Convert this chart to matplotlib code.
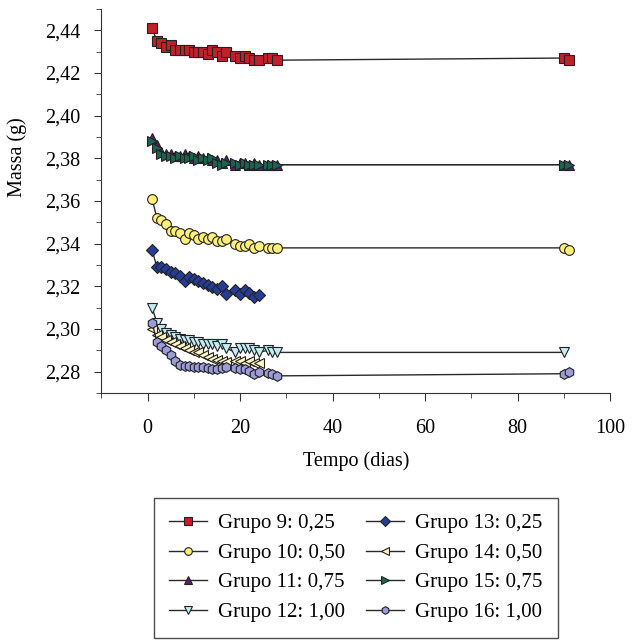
"""Massa (g) vs tempo (dias) for grupos 9-16."""

import matplotlib

matplotlib.use("Agg")
import matplotlib.pyplot as plt
from matplotlib.ticker import FuncFormatter, MultipleLocator

plt.rcParams["font.family"] = ["Liberation Serif", "DejaVu Serif"]

DAYS_FULL = [1, 2, 3, 4, 5, 6, 7, 8, 9, 10, 11, 12, 13, 14, 15, 16, 17,
             19, 20, 21, 22, 23, 24, 26, 27, 28, 90, 91]
DAYS_SHORT = [1, 2, 3, 4, 5, 6, 7, 8, 9, 10, 11, 12, 13, 14, 15, 16, 17,
              19, 20, 21, 22, 23, 24]
DAYS_G12 = DAYS_FULL[:-1]

G9 = [2.441, 2.435, 2.434, 2.432, 2.433, 2.431, 2.431, 2.431, 2.431, 2.430,
      2.430, 2.430, 2.429, 2.431, 2.430, 2.428, 2.430, 2.428, 2.427, 2.428,
      2.427, 2.426, 2.426, 2.427, 2.427, 2.426, 2.427, 2.426]
G10 = [2.361, 2.352, 2.351, 2.349, 2.346, 2.346, 2.345, 2.342, 2.345, 2.344,
       2.342, 2.343, 2.342, 2.343, 2.341, 2.341, 2.342, 2.340, 2.339, 2.339,
       2.340, 2.338, 2.339, 2.338, 2.338, 2.338, 2.338, 2.337]
G11 = [2.3895, 2.386, 2.383, 2.382, 2.382, 2.381, 2.381, 2.382, 2.381, 2.380,
       2.381, 2.380, 2.380, 2.379, 2.379, 2.378, 2.379, 2.377, 2.378, 2.378,
       2.377, 2.378, 2.377, 2.377, 2.377, 2.377, 2.377, 2.377]
G12 = [2.310, 2.303, 2.300, 2.298, 2.297, 2.296, 2.2955, 2.295, 2.295, 2.294,
       2.294, 2.293, 2.293, 2.293, 2.292, 2.293, 2.291, 2.289, 2.291, 2.291,
       2.291, 2.290, 2.289, 2.290, 2.289, 2.289, 2.289]
G13 = [2.337, 2.329, 2.329, 2.328, 2.3265, 2.326, 2.325, 2.3227, 2.3243,
       2.3236, 2.3227, 2.3215, 2.3204, 2.3196, 2.3188, 2.320, 2.3166, 2.3184,
       2.3166, 2.3184, 2.3168, 2.315, 2.316]
G14 = [2.300, 2.297, 2.296, 2.295, 2.294, 2.293, 2.292, 2.291, 2.290, 2.289,
       2.289, 2.288, 2.287, 2.286, 2.2855, 2.285, 2.2845, 2.285, 2.285, 2.284,
       2.285, 2.284, 2.284]
G15 = [2.388, 2.385, 2.382, 2.381, 2.381, 2.380, 2.381, 2.380, 2.380, 2.381,
       2.379, 2.380, 2.379, 2.380, 2.378, 2.377, 2.378, 2.378, 2.377, 2.378,
       2.377, 2.377, 2.377, 2.377, 2.377, 2.377, 2.377, 2.377]
G16 = [2.303, 2.294, 2.292, 2.290, 2.288, 2.285, 2.283, 2.2825, 2.2825, 2.282,
       2.282, 2.282, 2.2815, 2.281, 2.281, 2.2815, 2.282, 2.2815, 2.281, 2.281,
       2.2805, 2.279, 2.280, 2.2795, 2.279, 2.278, 2.279, 2.280]

SERIES = [
    ("Grupo 9: 0,25", DAYS_FULL, G9, "s", "#C0202A"),
    ("Grupo 10: 0,50", DAYS_FULL, G10, "o", "#FFF07A"),
    ("Grupo 11: 0,75", DAYS_FULL, G11, "^", "#5A1E6E"),
    ("Grupo 12: 1,00", DAYS_G12, G12, "v", "#C4ECF4"),
    ("Grupo 13: 0,25", DAYS_SHORT, G13, "D", "#263C96"),
    ("Grupo 14: 0,50", DAYS_SHORT, G14, "<", "#FFF6C4"),
    ("Grupo 15: 0,75", DAYS_FULL, G15, ">", "#1A6450"),
    ("Grupo 16: 1,00", DAYS_FULL, G16, "h", "#9C9CDA"),
]


def comma(fmt):
    return FuncFormatter(lambda v, _: fmt.format(v).replace(".", ","))


fig = plt.figure(figsize=(6.41, 6.41), dpi=100)
ax = fig.add_axes([0.158, 0.387, 0.794, 0.599])

handles = []
for label, days, vals, marker, color in SERIES:
    ms = 6.0 if marker == "D" else 7.0
    (h,) = ax.plot(days, vals, color="#2a2a2a", lw=1.0, marker=marker,
                   markersize=ms, markerfacecolor=color, markeredgecolor="#222222",
                   markeredgewidth=0.8, label=label)
    handles.append(h)

ax.set_xlim(-10, 100)
ax.set_ylim(2.27, 2.45)
ax.xaxis.set_minor_locator(MultipleLocator(10))
ax.yaxis.set_minor_locator(MultipleLocator(0.01))
ax.set_xticks([0, 20, 40, 60, 80, 100])
ax.set_yticks([2.28, 2.30, 2.32, 2.34, 2.36, 2.38, 2.40, 2.42, 2.44])
ax.yaxis.set_major_formatter(comma("{:.2f}"))
ax.xaxis.set_major_formatter(comma("{:.0f}"))
ax.tick_params(which="both", direction="out", labelsize=14.5, color="#333333")
ax.tick_params(which="major", length=5)
ax.tick_params(which="minor", length=3.5)
ax.tick_params(axis="x", which="major", length=6, pad=12.5)
ax.tick_params(axis="y", which="major", pad=10)
for side in ("top", "right"):
    ax.spines[side].set_visible(False)
for side in ("left", "bottom"):
    ax.spines[side].set_color("#333333")
ax.set_xlabel("Tempo (dias)", fontsize=14.5, labelpad=10)
ax.set_ylabel("Massa (g)", fontsize=14.5)
ax.yaxis.set_label_coords(-0.145, 0.615)

leg = fig.legend(handles=handles, ncol=2, loc="upper left",
                 bbox_to_anchor=(0.240, 0.223), fontsize=15, frameon=True,
                 fancybox=False, edgecolor="#222222", handlelength=1.8,
                 labelspacing=0.48, columnspacing=1.0, handletextpad=0.55,
                 borderpad=0.75, borderaxespad=0)
leg.get_frame().set_linewidth(1.0)
for lh in leg.legend_handles:
    lh.set_markersize(5.5)

fig.savefig("out.png", dpi=100)
